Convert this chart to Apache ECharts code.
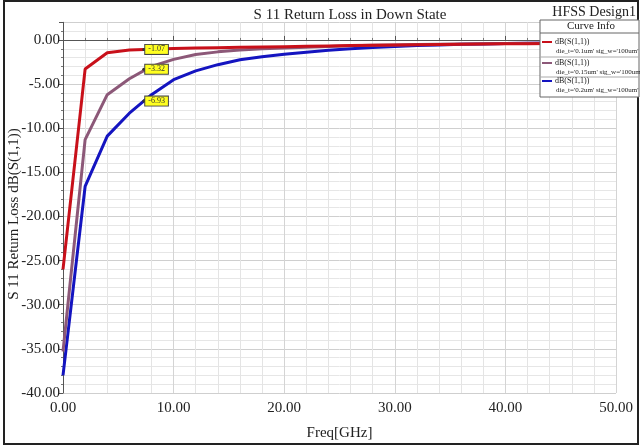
<!DOCTYPE html>
<html>
<head>
<meta charset="utf-8">
<script src="https://cdn.jsdelivr.net/npm/echarts@6/dist/echarts.min.js"></script>
<style>
html,body{margin:0;padding:0;background:#fff;}
#c{width:640px;height:446px;}
</style>
</head>
<body>
<div id="c"></div>
<script>
// Frequency points (GHz)
var freq = [0,2,4,6,8,10,12,14,16,18,20,22,24,26,28,30,32,34,36,38,40,42,44,46,48,50];
// dB(S(1,1)) for die_t = 0.1um
var s11_t01 = [-26.0,-3.3,-1.45,-1.15,-1.05,-0.98,-0.92,-0.88,-0.84,-0.8,-0.76,-0.72,-0.68,-0.64,-0.6,-0.57,-0.54,-0.51,-0.48,-0.46,-0.44,-0.42,-0.4,-0.38,-0.36,-0.35];
// dB(S(1,1)) for die_t = 0.15um
var s11_t015 = [-35.3,-11.3,-6.2,-4.4,-3.0,-2.2,-1.65,-1.35,-1.15,-1.0,-0.9,-0.82,-0.74,-0.67,-0.61,-0.56,-0.52,-0.48,-0.45,-0.42,-0.4,-0.38,-0.36,-0.34,-0.33,-0.32];
// dB(S(1,1)) for die_t = 0.2um
var s11_t02 = [-38.0,-16.6,-10.9,-8.3,-6.2,-4.5,-3.5,-2.8,-2.25,-1.9,-1.62,-1.38,-1.18,-1.0,-0.86,-0.74,-0.64,-0.56,-0.5,-0.45,-0.41,-0.38,-0.35,-0.33,-0.31,-0.3];
// marker readouts
var markerFreq = 7.3;
var markerVals = [-1.07, -3.32, -6.93];
var seriesNames = ["dB(S(1,1))", "dB(S(1,1))", "dB(S(1,1))"];
var seriesSub = ["die_t='0.1um' sig_w='100um'", "die_t='0.15um' sig_w='100um'", "die_t='0.2um' sig_w='100um'"];
var colors = ["#c8101a", "#8c5878", "#1414c0"];
var yTicks = [-40,-35,-30,-25,-20,-15,-10,-5,0];

var FONT = "Liberation Serif";
function pairs(ys){ return freq.map(function(x,i){ return [x, ys[i]]; }); }
var allData = [s11_t01, s11_t015, s11_t02];

var series = allData.map(function(d, i){
  return {
    name: seriesNames[i] + i,
    type: 'line',
    data: pairs(d),
    symbol: 'none',
    smooth: false,
    lineStyle: {color: colors[i], width: 3},
    itemStyle: {color: colors[i]},
    z: 3 - i,
    markPoint: {
      symbol: 'circle',
      symbolSize: 3,
      itemStyle: {color: '#333'},
      data: [{coord: [markerFreq, markerVals[i]], value: markerVals[i]}],
      label: {
        show: true, position: 'right', distance: 0,
        formatter: function(p){ return p.value.toFixed(2); },
        fontFamily: FONT, fontSize: 8, color: '#333',
        backgroundColor: '#ffff20', borderColor: '#444', borderWidth: 1,
        padding: [1, 3, 0, 3]
      }
    }
  };
});

function txt(x, y, s, size, align){
  return {type:'text', z:101, x:x, y:y, style:{text:s, font: size + 'px "Liberation Serif"', fill:'#222', align: align || 'left', verticalAlign:'middle'}};
}
var legendEls = [
  {type:'rect', z:100, shape:{x:540, y:20, width:99, height:77}, style:{fill:'#fff', stroke:'#666', lineWidth:1}},
  txt(591, 26, 'Curve Info', 11, 'center'),
  {type:'line', z:101, shape:{x1:540, y1:33, x2:639, y2:33}, style:{stroke:'#666', lineWidth:1}},
  {type:'line', z:101, shape:{x1:540, y1:57, x2:639, y2:57}, style:{stroke:'#aaa', lineWidth:1}},
  {type:'line', z:101, shape:{x1:540, y1:77, x2:639, y2:77}, style:{stroke:'#aaa', lineWidth:1}}
];
var entryY = [42, 63, 81];
for (var i = 0; i < 3; i++) {
  legendEls.push({type:'line', z:101, shape:{x1:542, y1:entryY[i], x2:552, y2:entryY[i]}, style:{stroke:colors[i], lineWidth:2}});
  legendEls.push(txt(555, entryY[i], seriesNames[i], 8));
  legendEls.push(txt(556, entryY[i] + 9, seriesSub[i], 7));
}

var chart = echarts.init(document.getElementById('c'), null, {renderer:'canvas'});
chart.setOption({
  backgroundColor: '#fff',
  animation: false,
  title: {
    text: 'S 11 Return Loss in Down State',
    left: 345, top: 3, textAlign: 'center',
    textStyle: {fontFamily: FONT, fontSize: 15, fontWeight: 'normal', color: '#222'}
  },
  grid: {left: 63, right: 24, top: 22.3, bottom: 53, containLabel: false, outerBoundsMode: 'none'},
  xAxis: {
    type: 'value', min: 0, max: 50, interval: 10,
    name: 'Freq[GHz]', nameLocation: 'middle', nameGap: 33, nameMoveOverlap: false,
    nameTextStyle: {fontFamily: FONT, fontSize: 15, color: '#222'},
    axisLine: {show: true, lineStyle: {color: '#555', width: 1}},
    axisTick: {show: true, inside: true, length: 4, lineStyle: {color: '#555'}},
    minorTick: {show: true, splitNumber: 5, length: 2, lineStyle: {color: '#777'}},
    axisLabel: {fontFamily: FONT, fontSize: 15, color: '#222', margin: 8,
      formatter: function(v){ return v.toFixed(2); }},
    splitLine: {show: true, lineStyle: {color: '#d4d4d4', width: 1}},
    minorSplitLine: {show: true, lineStyle: {color: '#e4e4e4', width: 1}}
  },
  yAxis: {
    type: 'value', min: -40, max: 2, interval: 5,
    axisLine: {show: true, lineStyle: {color: '#555', width: 1}},
    axisTick: {show: true, length: 4, lineStyle: {color: '#555'}},
    minorTick: {show: true, splitNumber: 5, length: 2, lineStyle: {color: '#777'}},
    axisLabel: {fontFamily: FONT, fontSize: 15, color: '#222', margin: 3,
      formatter: function(v){ return (yTicks.indexOf(v) >= 0) ? v.toFixed(2) : ''; }},
    splitLine: {show: true, lineStyle: {color: '#cfcfcf', width: 1}},
    minorSplitLine: {show: true, lineStyle: {color: '#e6e6e6', width: 1}}
  },
  series: series,
  graphic: [
    {type:'rect', shape:{x:4, y:1, width:634, height:443}, style:{fill:'none', stroke:'#222', lineWidth:2}, z:100},
    {type:'text', x:636, y:12, style:{text:'HFSS Design1', font:'14px "Liberation Serif"', fill:'#222', align:'right', verticalAlign:'middle'}, z:100},
    {type:'text', x:14, y:214, rotation: Math.PI / 2, style:{text:'S 11 Return Loss dB(S(1,1))', font:'15px "Liberation Serif"', fill:'#222', align:'center', verticalAlign:'middle'}, z:100},
    {type:'group', z:100, children: legendEls}
  ]
});
</script>
</body>
</html>
